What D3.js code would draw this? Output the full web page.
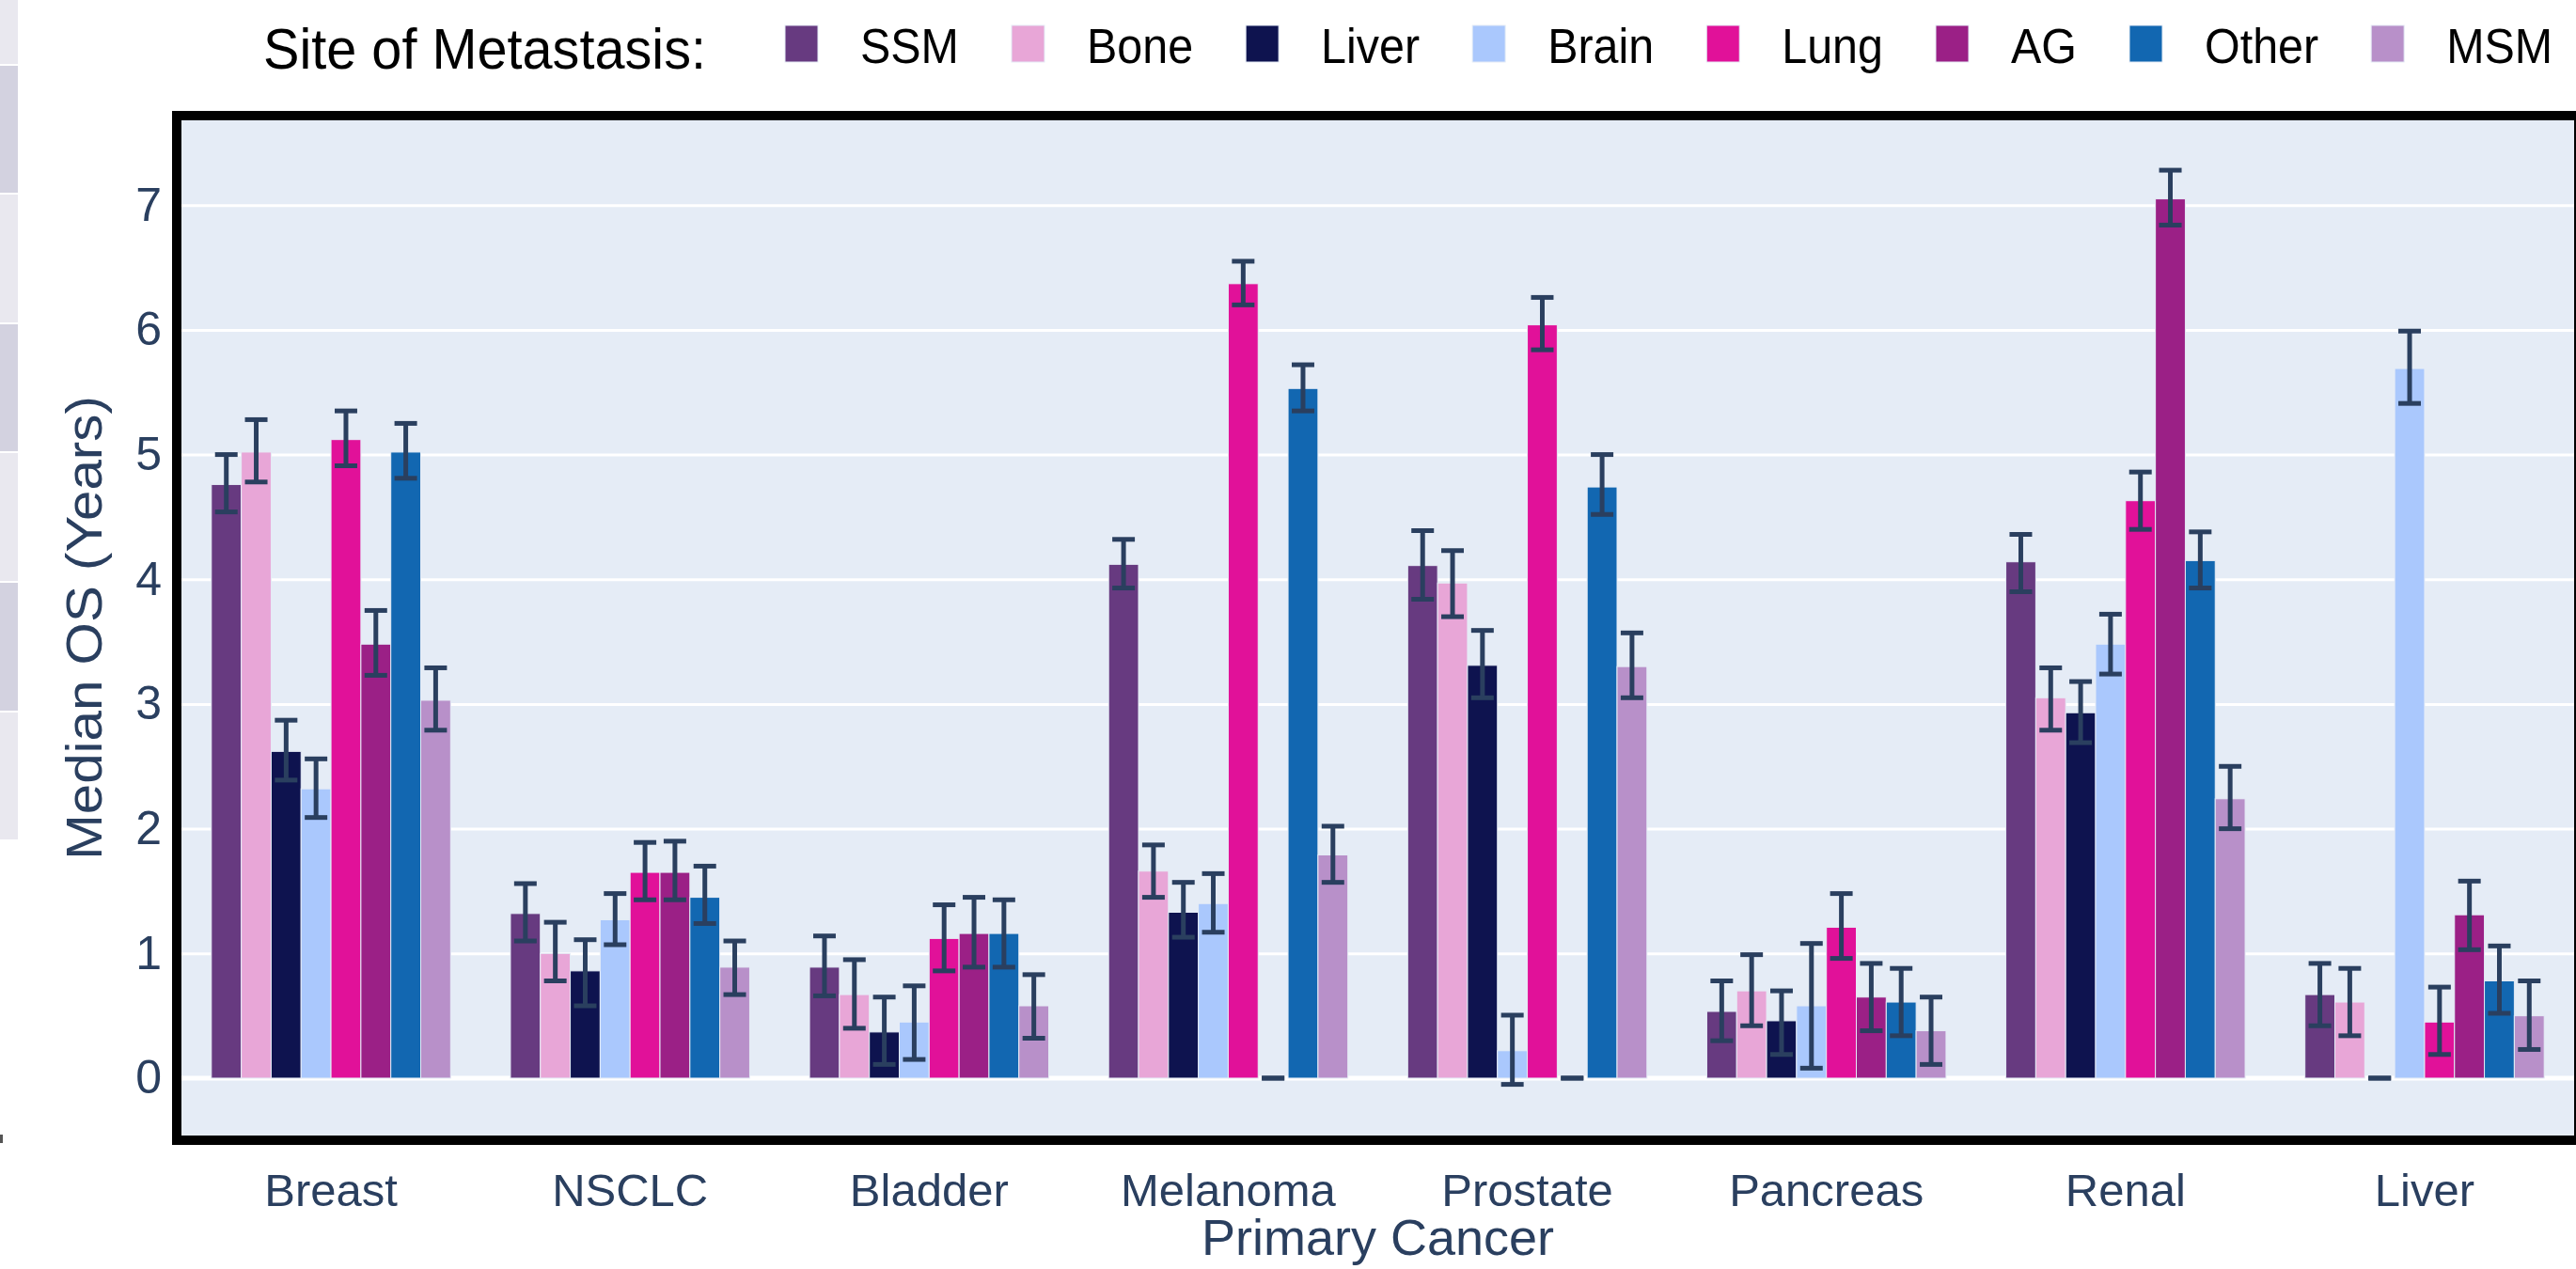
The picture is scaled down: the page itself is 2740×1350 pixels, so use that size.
<!DOCTYPE html>
<html><head><meta charset="utf-8">
<script src="https://cdn.jsdelivr.net/npm/d3@7"></script>
<style>html,body{margin:0;padding:0;background:#fff;} svg{display:block;}</style>
</head><body><svg id="chart" width="2740" height="1350"></svg>
<script>
// ---------------- DATA ----------------
const categories = ["Breast","NSCLC","Bladder","Melanoma","Prostate","Pancreas","Renal","Liver"];
const seriesNames = ["SSM","Bone","Liver","Brain","Lung","AG","Other","MSM"];
const seriesColors = ["#673A80","#E8A6D7","#0E134F","#AAC8FD","#E11199","#9B2086","#1267B1","#B890C9"];

const ssm      = [4.76, 1.32, 0.89, 4.12, 4.11, 0.535, 4.14, 0.67];
const ssmLow   = [4.54, 1.10, 0.66, 3.93, 3.84, 0.30, 3.90, 0.42];
const ssmHigh  = [5.00, 1.56, 1.14, 4.32, 4.39, 0.78, 4.36, 0.92];

const bone     = [5.02, 1.00, 0.67, 1.66, 3.97, 0.70, 3.05, 0.61];
const boneLow  = [4.78, 0.78, 0.40, 1.45, 3.70, 0.42, 2.79, 0.34];
const boneHigh = [5.28, 1.25, 0.95, 1.87, 4.23, 0.99, 3.29, 0.88];

const liver     = [2.62, 0.86, 0.37, 1.33, 3.31, 0.46, 2.93, 0.00];
const liverLow  = [2.39, 0.58, 0.11, 1.13, 3.05, 0.19, 2.69, 0.00];
const liverHigh = [2.87, 1.11, 0.65, 1.57, 3.59, 0.70, 3.18, 0.00];

const brain     = [2.32, 1.27, 0.45, 1.40, 0.22, 0.58, 3.48, 5.69];
const brainLow  = [2.09, 1.07, 0.15, 1.17, -0.05, 0.08, 3.24, 5.41];
const brainHigh = [2.56, 1.48, 0.74, 1.64, 0.505, 1.08, 3.72, 5.99];

const lung     = [5.12, 1.65, 1.12, 6.37, 6.04, 1.21, 4.63, 0.45];
const lungLow  = [4.91, 1.43, 0.86, 6.20, 5.84, 0.96, 4.40, 0.19];
const lungHigh = [5.35, 1.89, 1.39, 6.55, 6.26, 1.48, 4.86, 0.73];

const ag     = [3.48, 1.65, 1.16, 0.00, 0.00, 0.65, 7.05, 1.31];
const agLow  = [3.23, 1.43, 0.89, 0.00, 0.00, 0.38, 6.84, 1.03];
const agHigh = [3.75, 1.90, 1.45, 0.00, 0.00, 0.92, 7.28, 1.58];

const other     = [5.02, 1.45, 1.16, 5.53, 4.74, 0.61, 4.15, 0.78];
const otherLow  = [4.81, 1.24, 0.89, 5.35, 4.52, 0.34, 3.93, 0.52];
const otherHigh = [5.25, 1.70, 1.43, 5.72, 5.00, 0.88, 4.38, 1.06];

const msm     = [3.03, 0.89, 0.58, 1.79, 3.30, 0.38, 2.24, 0.50];
const msmLow  = [2.79, 0.67, 0.32, 1.57, 3.05, 0.11, 2.00, 0.23];
const msmHigh = [3.29, 1.10, 0.83, 2.02, 3.57, 0.65, 2.50, 0.78];

const yTicks = [0,1,2,3,4,5,6,7];
const legendTitle = "Site of Metastasis:";
const xTitle = "Primary Cancer";
const yTitle = "Median OS (Years)";

const seriesValues = [ssm, bone, liver, brain, lung, ag, other, msm];
const seriesLows   = [ssmLow, boneLow, liverLow, brainLow, lungLow, agLow, otherLow, msmLow];
const seriesHighs  = [ssmHigh, boneHigh, liverHigh, brainHigh, lungHigh, agHigh, otherHigh, msmHigh];

// ---------------- LAYOUT ----------------
const W = 2740, H = 1350;
const plot = {left:193, right:2738, top:128, bottom:1208};
const axisColor = "#2A3F5F";
const FONT = "'Liberation Sans', Arial, Helvetica, sans-serif";

const svg = d3.select("#chart");
svg.append("rect").attr("width",W).attr("height",H).attr("fill","#fff");

// left-edge partial strip (cut-off neighbour panel)
const strips = [[0,68,"#E9E8EF"],[70,205,"#D3D2E0"],[207,343,"#E9E8EF"],[345,480,"#D3D2E0"],[482,618,"#E9E8EF"],[620,756,"#D3D2E0"],[758,893,"#E9E8EF"]];
svg.append("g").selectAll("rect").data(strips).join("rect")
  .attr("x",0).attr("width",19).attr("y",d=>d[0]).attr("height",d=>d[1]-d[0]).attr("fill",d=>d[2]);
svg.append("rect").attr("x",0).attr("y",1207).attr("width",3).attr("height",9).attr("fill","#555");

// scales
const x = d3.scaleBand().domain(categories).range([plot.left, plot.right]).paddingInner(0.2).paddingOuter(0.1);
const xs = d3.scaleBand().domain(seriesNames).range([0, x.bandwidth()]);
const y = d3.scaleLinear().domain([-0.46, 7.68]).range([plot.bottom, plot.top]);
const color = d3.scaleOrdinal().domain(seriesNames).range(seriesColors);

// plot background
svg.append("rect").attr("x",plot.left).attr("y",plot.top)
  .attr("width",plot.right-plot.left).attr("height",plot.bottom-plot.top).attr("fill","#E5ECF6");

// grid
const grid = svg.append("g").attr("transform",`translate(${plot.left},0)`)
  .call(d3.axisLeft(y).tickValues(yTicks.filter(t=>t!==0)).tickSize(-(plot.right-plot.left)).tickFormat(""));
grid.select(".domain").remove();
grid.selectAll("line").attr("stroke","#fff").attr("stroke-width",3);
// zero line
svg.append("line").attr("x1",plot.left).attr("x2",plot.right)
  .attr("y1",y(0)).attr("y2",y(0)).attr("stroke","#fff").attr("stroke-width",5);

// data table
const table = [];
seriesNames.forEach((s,si)=>{
  categories.forEach((c,ci)=>{
    table.push({series:s, cat:c, v:seriesValues[si][ci], lo:seriesLows[si][ci], hi:seriesHighs[si][ci]});
  });
});

// bars + error bars per trace
const capHalf = 12;
seriesNames.forEach(s=>{
  const rows = table.filter(d=>d.series===s);
  const g = svg.append("g");
  g.selectAll("rect").data(rows).join("rect")
    .attr("x",d=>x(d.cat)+xs(s))
    .attr("width",xs.bandwidth())
    .attr("y",d=>Math.min(y(d.v),y(0)))
    .attr("height",d=>Math.abs(y(0)-y(d.v)))
    .attr("fill",color(s))
    .attr("stroke","#E5ECF6").attr("stroke-width",1);
  const eb = g.selectAll("g.eb").data(rows).join("g").attr("class","eb")
    .attr("transform",d=>`translate(${x(d.cat)+xs(s)+xs.bandwidth()/2},0)`);
  eb.append("line").attr("x1",0).attr("x2",0).attr("y1",d=>y(d.lo)).attr("y2",d=>y(d.hi))
    .attr("stroke",axisColor).attr("stroke-width",5);
  eb.append("line").attr("x1",-capHalf).attr("x2",capHalf).attr("y1",d=>y(d.hi)).attr("y2",d=>y(d.hi))
    .attr("stroke",axisColor).attr("stroke-width",5);
  eb.append("line").attr("x1",-capHalf).attr("x2",capHalf).attr("y1",d=>y(d.lo)).attr("y2",d=>y(d.lo))
    .attr("stroke",axisColor).attr("stroke-width",5);
});

// frame
svg.append("rect").attr("x",plot.left-5).attr("y",plot.top-5)
  .attr("width",plot.right-plot.left+10).attr("height",plot.bottom-plot.top+10)
  .attr("fill","none").attr("stroke","#000").attr("stroke-width",10);

// y axis labels
const yAxis = svg.append("g").attr("transform",`translate(${plot.left},0)`)
  .call(d3.axisLeft(y).tickValues(yTicks).tickSize(0).tickPadding(21).tickFormat(d3.format("d")));
yAxis.select(".domain").remove();
yAxis.selectAll("text").attr("font-family",FONT).attr("font-size",50).attr("fill",axisColor);

// x axis labels
const xAxis = svg.append("g").attr("transform",`translate(0,${plot.bottom})`)
  .call(d3.axisBottom(x).tickSize(0).tickPadding(40));
xAxis.select(".domain").remove();
xAxis.selectAll("text").attr("font-family",FONT).attr("font-size",49).attr("fill",axisColor);

// axis titles
svg.append("text").attr("x",(plot.left+plot.right)/2).attr("y",1335)
  .attr("text-anchor","middle").attr("font-family",FONT).attr("font-size",54).attr("fill",axisColor)
  .text(xTitle);
svg.append("text")
  .attr("transform",`translate(108,${(plot.top+plot.bottom)/2}) rotate(-90) scale(1.08,1)`)
  .attr("text-anchor","middle").attr("font-family",FONT).attr("font-size",54).attr("fill",axisColor)
  .text(yTitle);

// legend
const leg = svg.append("g");
leg.append("text").attr("transform","translate(280,73) scale(0.93,1)")
  .attr("font-family",FONT).attr("font-size",62).attr("fill","#000").text(legendTitle);
let lx = 835;
const itemScale = 0.95;
seriesNames.forEach(s=>{
  leg.append("rect").attr("x",lx).attr("y",27).attr("width",35).attr("height",39)
    .attr("fill",color(s)).attr("stroke","#E5ECF6").attr("stroke-width",1);
  const tx = lx+80;
  const t = leg.append("text").attr("transform",`translate(${tx},67) scale(${itemScale},1)`)
    .attr("font-family",FONT).attr("font-size",51).attr("fill","#000").text(s);
  const w = t.node().getComputedTextLength()*itemScale;
  lx = tx + w + 56;
});
</script></body></html>
